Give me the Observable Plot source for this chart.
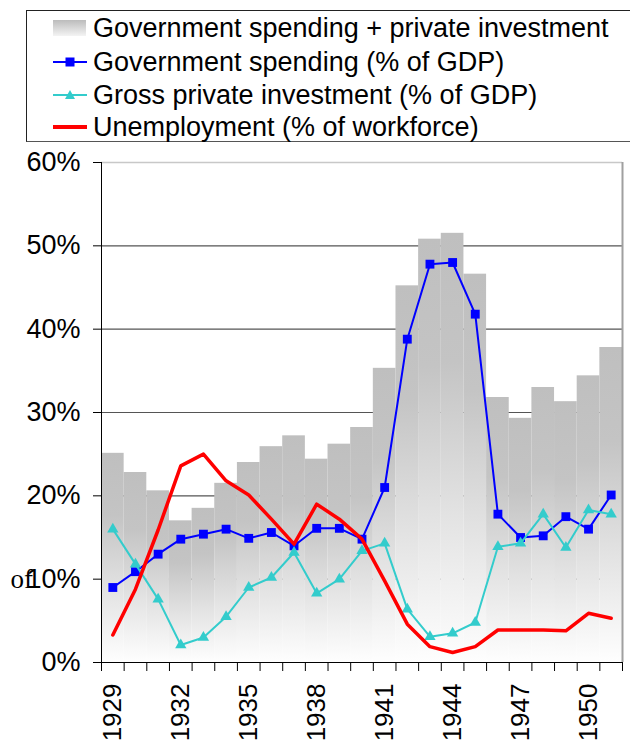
<!DOCTYPE html>
<html>
<head>
<meta charset="utf-8">
<script src="https://cdn.jsdelivr.net/npm/d3@7"></script>
<script src="https://cdn.jsdelivr.net/npm/@observablehq/plot@0.6"></script>
<style>
  html, body { margin: 0; padding: 0; background: #fff; }
  #wrap { position: relative; width: 630px; height: 742px; overflow: hidden; font-family: "Liberation Sans", Arial, sans-serif; }
  #legend { position: absolute; left: 26px; top: 10px; width: 640px; height: 132px; border: 1px solid #222; border-bottom-color: #555; box-sizing: border-box; background: #fff; }
  .row { position: absolute; left: 0; height: 30px; display: flex; align-items: center; font-size: 27px; color: #000; white-space: nowrap; }
  .row svg { margin-left: 26px; margin-right: 6px; }
</style>
</head>
<body>
<div id="wrap">
  <div id="chart"></div>
  <div id="legend"></div>
</div>
<script>
const years = [1929,1930,1931,1932,1933,1934,1935,1936,1937,1938,1939,1940,1941,1942,1943,1944,1945,1946,1947,1948,1949,1950,1951];
const combined = [25.1,22.8,20.6,17.0,18.5,21.5,24.0,25.9,27.2,24.4,26.2,28.2,35.3,45.2,50.8,51.5,46.6,31.8,29.3,33.0,31.3,34.4,37.8];
const government = [9.0,10.9,13.0,14.8,15.4,16.0,14.9,15.6,14.0,16.1,16.1,14.8,21.0,38.8,47.8,48.0,41.8,17.8,15.0,15.2,17.5,16.0,20.1];
const investment = [16.0,11.8,7.6,2.1,3.0,5.5,9.0,10.2,13.2,8.3,10.0,13.4,14.3,6.4,3.1,3.5,4.8,13.9,14.3,17.8,13.8,18.3,17.8];
const unemployment = [3.3,8.8,15.9,23.6,25.0,21.8,20.1,17.2,14.2,19.0,17.2,14.8,9.8,4.6,1.9,1.2,1.9,3.9,3.9,3.9,3.8,5.9,5.3];
const yTicks = [0,10,20,30,40,50,60];
const gridValues = [10,20,30,40,50];
const labelYears = [1929,1932,1935,1938,1941,1944,1947,1950];
const seriesNames = ["Government spending + private investment","Government spending (% of GDP)","Gross private investment (% of GDP)","Unemployment (% of workforce)"];
const strayLabel = [{v: 10, text: "of"}];

const data = years.map((y, i) => ({year: y, total: combined[i], gov: government[i], inv: investment[i], unemp: unemployment[i]}));
const xMin = d3.min(years) - 0.5, xMax = d3.max(years) + 0.5;
const bounds = d3.range(years.length + 1).map(i => xMin + i);

const chart = Plot.plot({
  width: 630,
  height: 742,
  marginTop: 162,
  marginBottom: 80,
  marginLeft: 101,
  marginRight: 8,
  style: {fontFamily: '"Liberation Sans", Arial, sans-serif', background: "transparent"},
  x: {type: "linear", domain: [xMin, xMax], label: null},
  y: {domain: [0, 60], label: null},
  marks: [
    Plot.ruleY(gridValues, {stroke: "#555", strokeWidth: 1.2}),
    Plot.ruleY([60], {stroke: "#c8c8c8", strokeWidth: 1.5}),
    Plot.rectY(data, {x1: d => d.year - 0.5, x2: d => d.year + 0.5, y: "total", fill: "url(#barGrad)"}),
    Plot.ruleX([xMax], {stroke: "#a0a0a0", strokeWidth: 2}),
    Plot.ruleX([xMin], {stroke: "#000", strokeWidth: 1}),
    Plot.ruleY([0], {stroke: "#000", strokeWidth: 1}),
    Plot.axisY({ticks: yTicks, tickFormat: d => d + "%", tickSize: 8, tickPadding: 13, fontSize: 27, stroke: "#000", color: "#000", label: null}),
    Plot.axisX({ticks: bounds, tickFormat: () => "", tickSize: 9, stroke: "#000", label: null}),
    Plot.axisX({ticks: labelYears, tickFormat: d => String(d), tickSize: 0, tickPadding: 21, tickRotate: -90, fontSize: 26, color: "#000", label: null}),
    Plot.text(strayLabel, {y: "v", text: "text", frameAnchor: "left", dx: -91, textAnchor: "start", fontSize: 27, fontFamily: '"Liberation Serif", "Times New Roman", serif', fill: "#000"}),
    Plot.line(data, {x: "year", y: "gov", stroke: "#0000ff", strokeWidth: 2}),
    Plot.dot(data, {x: "year", y: "gov", symbol: "square", r: 5, fill: "#0000ff", stroke: "none"}),
    Plot.line(data, {x: "year", y: "inv", stroke: "#33cccc", strokeWidth: 2}),
    Plot.dot(data, {x: "year", y: "inv", symbol: "triangle", r: 4.2, fill: "#33cccc", stroke: "none"}),
    Plot.line(data, {x: "year", y: "unemp", stroke: "#ff0000", strokeWidth: 3.5})
  ]
});

const ns = "http://www.w3.org/2000/svg";
const defs = document.createElementNS(ns, "defs");
defs.innerHTML = `<linearGradient id="barGrad" x1="0" y1="0" x2="0" y2="1">
  <stop offset="0" stop-color="#bfbfbf"/>
  <stop offset="0.3" stop-color="#c4c4c4"/>
  <stop offset="0.65" stop-color="#e2e2e2"/>
  <stop offset="1" stop-color="#fefefe"/>
</linearGradient>`;
chart.insertBefore(defs, chart.firstChild);
document.getElementById("chart").appendChild(chart);

// legend
const legend = document.getElementById("legend");
const symbols = [
  `<svg width="34" height="16"><defs><linearGradient id="lg" x1="0" y1="0" x2="0" y2="1"><stop offset="0" stop-color="#bcbcbc"/><stop offset="1" stop-color="#f4f4f4"/></linearGradient></defs><rect x="0" y="0" width="33" height="16" fill="url(#lg)"/></svg>`,
  `<svg width="34" height="12"><line x1="0" y1="6" x2="34" y2="6" stroke="#0000ff" stroke-width="2"/><rect x="12.5" y="1.5" width="9" height="9" fill="#0000ff"/></svg>`,
  `<svg width="34" height="12"><line x1="0" y1="6" x2="34" y2="6" stroke="#33cccc" stroke-width="2"/><path d="M17,1 L22,10 L12,10 Z" fill="#33cccc"/></svg>`,
  `<svg width="34" height="12"><line x1="0" y1="6" x2="34" y2="6" stroke="#ff0000" stroke-width="4"/></svg>`
];
const rowTops = [2, 36, 69, 101];
seriesNames.forEach((name, i) => {
  const row = document.createElement("div");
  row.className = "row";
  row.style.top = rowTops[i] + "px";
  row.innerHTML = symbols[i] + `<span>${name}</span>`;
  legend.appendChild(row);
});
</script>
</body>
</html>
